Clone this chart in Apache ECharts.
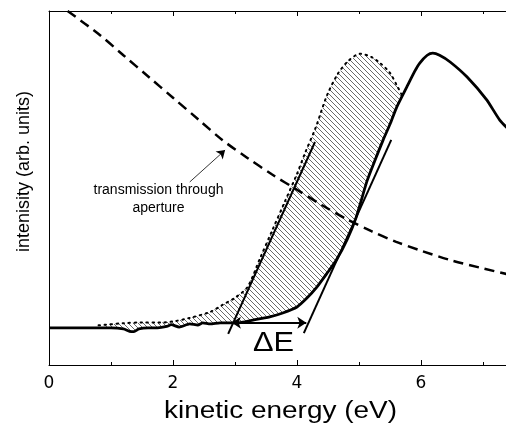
<!DOCTYPE html>
<html><head><meta charset="utf-8">
<script src="https://cdn.jsdelivr.net/npm/echarts@6/dist/echarts.min.js"></script>
<style>html,body{margin:0;padding:0;background:#fff}#c{width:506px;height:434px}</style>
</head><body><div id="c"></div>
<script>
// ---- data ----
const xTicks = [0, 2, 4, 6, 8];
const spectrumX = [0, 0.5, 1.0, 1.2, 1.3, 1.37, 1.45, 1.6, 1.75, 1.9, 1.97, 2.1, 2.27, 2.4, 2.48, 2.6, 2.76, 3.03, 3.29, 3.56, 3.77, 4.0, 4.16, 4.32, 4.48, 4.63, 4.81, 4.95, 5.13, 5.25, 5.39, 5.5, 5.61, 5.77, 5.9, 5.98, 6.1, 6.19, 6.3, 6.47, 6.74, 7.06, 7.27, 7.5];
const spectrumY = [10.5, 10.5, 10.5, 10.2, 9.5, 9.4, 10.2, 10.5, 10.5, 10.9, 11.4, 10.7, 11.6, 11.3, 11.9, 11.6, 11.9, 11.9, 12.7, 13.6, 14.7, 16.4, 18.9, 22, 25.8, 29.5, 35.5, 41.5, 52, 57.5, 63.6, 68, 72.9, 78.5, 83, 85.3, 87.5, 88.1, 87.5, 85.6, 81.4, 74.9, 69.2, 65];
const shiftedX = [0.8, 1.2, 1.5, 1.8, 2.0, 2.27, 2.6, 2.8, 3.0, 3.2, 3.4, 3.6, 3.8, 4.0, 4.13, 4.3, 4.48, 4.65, 4.81, 5.02, 5.2, 5.34, 5.5, 5.61, 5.7];
const shiftedY = [11.2, 11.8, 12.0, 12.0, 12.3, 13.3, 15.0, 17.0, 19.0, 22.0, 30.0, 38.0, 46.0, 54.0, 59.9, 67.0, 76.0, 82.0, 85.6, 87.9, 87.0, 85.3, 82.5, 79.0, 76.0];
const transX = [0.3, 0.8, 1.2, 1.6, 2.0, 2.4, 2.8, 3.2, 3.6, 4.0, 4.4, 4.8, 5.2, 5.6, 6.0, 6.5, 7.0, 7.5];
const transY = [100, 93.5, 87.5, 81.5, 75.5, 69.5, 63.5, 58.5, 53.8, 49.5, 45.2, 41.2, 37.8, 34.8, 32.3, 29.5, 27.3, 25.2];
const tangent1X = [2.89, 4.29];
const tangent1Y = [8.8, 63.0];
const tangent2X = [4.11, 5.52];
const tangent2Y = [9.0, 63.6];
const deltaEX = [2.95, 4.15];
const deltaEY = [11.9, 11.9];
const noteArrowX = [2.27, 2.84];
const noteArrowY = [51.7, 60.7];

const pairs = (xs, ys) => xs.map((x, i) => [x, ys[i]]);

function hatchCanvas() {
  const c = document.createElement('canvas');
  c.width = 5; c.height = 5;
  const g = c.getContext('2d');
  g.strokeStyle = '#6a6a6a';
  g.lineWidth = 1;
  g.beginPath();
  g.moveTo(-1, -1); g.lineTo(6, 6);
  g.moveTo(-1, 4); g.lineTo(1, 6);
  g.moveTo(4, -1); g.lineTo(6, 1);
  g.stroke();
  return c;
}
const hatch = hatchCanvas();

const chart = echarts.init(document.getElementById('c'), null, {renderer: 'canvas'});
const axisCommon = {
  type: 'value', min: xTicks[0], max: xTicks[xTicks.length - 1], interval: 2,
  axisLine: {show: true, lineStyle: {color: '#000', width: 1}},
  axisTick: {show: true, inside: true, length: 5, lineStyle: {color: '#000'}},
  minorTick: {show: true, splitNumber: 2, length: 3, lineStyle: {color: '#000'}},
  splitLine: {show: false}, minorSplitLine: {show: false}
};
chart.setOption({
  animation: false,
  grid: {left: 49, top: 11, width: 496, height: 354, containLabel: false, outerBoundsMode: 'none'},
  xAxis: [
    Object.assign({}, axisCommon, {position: 'bottom',
      axisLabel: {show: true, color: '#000', fontFamily: 'DejaVu Sans', fontSize: 17, margin: 10, showMaxLabel: false}}),
    Object.assign({}, axisCommon, {position: 'top', axisLabel: {show: false}})
  ],
  yAxis: {
    type: 'value', min: 0, max: 100,
    axisLine: {show: true, lineStyle: {color: '#000', width: 1}},
    axisTick: {show: false}, axisLabel: {show: false}, splitLine: {show: false}
  },
  series: [
    {
      type: 'custom', coordinateSystem: 'cartesian2d', silent: true,
      data: [[0, 0]], encode: {x: 0, y: 1}, z: 1,
      renderItem: function (params, api) {
        const pts = [];
        for (let i = 0; i < shiftedX.length; i++) pts.push(api.coord([shiftedX[i], shiftedY[i]]));
        const lo = pairs(spectrumX, spectrumY).filter(p => p[0] >= shiftedX[0] && p[0] <= shiftedX[shiftedX.length - 1]);
        for (let i = lo.length - 1; i >= 0; i--) pts.push(api.coord(lo[i]));
        return {type: 'polygon', shape: {points: pts},
          style: {fill: {image: hatch, repeat: 'repeat'}, stroke: null}};
      }
    },
    {
      type: 'line', data: pairs(shiftedX, shiftedY), showSymbol: false, smooth: 0.3, z: 2,
      lineStyle: {color: '#000', width: 2, type: [1.5, 4.5], cap: 'round'}
    },
    {
      type: 'line', data: pairs(transX, transY), showSymbol: false, smooth: 0.3, z: 3,
      lineStyle: {color: '#000', width: 2.5, type: [10, 6]}
    },
    {
      type: 'line', data: pairs(spectrumX, spectrumY), showSymbol: false, smooth: 0.2, z: 4,
      lineStyle: {color: '#000', width: 2.8}
    },
    {
      type: 'line', data: pairs(tangent1X, tangent1Y), showSymbol: false, z: 5,
      lineStyle: {color: '#000', width: 2},
      markLine: {
        silent: true, symbol: ['arrow', 'arrow'], symbolSize: 9, label: {show: false},
        lineStyle: {color: '#000', width: 2, type: 'solid'},
        data: [[{coord: [deltaEX[0], deltaEY[0]]}, {coord: [deltaEX[1], deltaEY[1]]}]]
      }
    },
    {
      type: 'line', data: pairs(tangent2X, tangent2Y), showSymbol: false, z: 5,
      lineStyle: {color: '#000', width: 2},
      markLine: {
        silent: true, symbol: ['none', 'arrow'], symbolSize: 8, label: {show: false},
        lineStyle: {color: '#000', width: 0.8, type: 'solid'},
        data: [[{coord: [noteArrowX[0], noteArrowY[0]]}, {coord: [noteArrowX[1], noteArrowY[1]]}]]
      }
    }
  ],
  graphic: [
    {type: 'text', x: 280.5, y: 412, scaleX: 1.215, silent: true,
      style: {text: 'kinetic energy (eV)', font: '23px "Liberation Sans"', fill: '#000', align: 'center', verticalAlign: 'middle'}},
    {type: 'text', x: 24, y: 171.5, rotation: Math.PI / 2, silent: true,
      style: {text: 'intenisity (arb. units)', font: '18px "Liberation Sans"', fill: '#000', align: 'center', verticalAlign: 'middle'}},
    {type: 'text', x: 158.5, y: 199, silent: true,
      style: {text: 'transmission through\naperture', font: '14px "Liberation Sans"', lineHeight: 18, fill: '#000', align: 'center', verticalAlign: 'middle'}},
    {type: 'text', x: 273.5, y: 343, scaleX: 1.1, silent: true,
      style: {text: 'ΔE', font: '28px "Liberation Sans"', fill: '#000', align: 'center', verticalAlign: 'middle'}}
  ]
});
</script>
</body></html>
